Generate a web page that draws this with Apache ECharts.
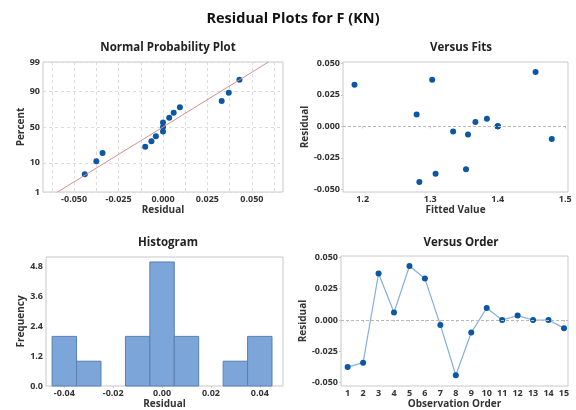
<!DOCTYPE html>
<html>
<head>
<meta charset="utf-8">
<script src="https://cdn.jsdelivr.net/npm/echarts@6/dist/echarts.min.js"></script>
<style>
  html, body { margin: 0; padding: 0; background: #fff; }
  #chart { width: 576px; height: 410px; }
</style>
</head>
<body>
<div id="chart"></div>
<script>
const observation = [1, 2, 3, 4, 5, 6, 7, 8, 9, 10, 11, 12, 13, 14, 15]
const residuals = [-0.0375, -0.034, 0.037, 0.006, 0.043, 0.033, -0.004, -0.044, -0.010, 0.0095, 0.000, 0.0035, 0.000, 0.000, -0.0065]
const fitted = [1.308, 1.353, 1.303, 1.384, 1.456, 1.188, 1.334, 1.284, 1.480, 1.280, 1.400, 1.367, 1.400, 1.400, 1.356]

// normal probability plot: sorted residuals and their plotted percents
const npResidual = [-0.044, -0.0375, -0.034, -0.010, -0.0065, -0.004, 0.000, 0.000, 0.000, 0.0035, 0.006, 0.0095, 0.033, 0.037, 0.043]
const npPercent = [4.5, 11.0, 17.5, 24.0, 30.5, 37.0, 43.5, 50.0, 56.5, 63.0, 69.5, 76.0, 82.5, 89.0, 95.5]
const npLineResidual = [-0.0593, 0.0593]
const npLinePercent = [1, 99]
const percentTicks = [1, 10, 50, 90, 99]

// histogram bins
const binStart = [-0.045, -0.035, -0.025, -0.015, -0.005, 0.005, 0.015, 0.025, 0.035]
const binEnd = [-0.035, -0.025, -0.015, -0.005, 0.005, 0.015, 0.025, 0.035, 0.045]
const binCount = [2, 1, 0, 2, 5, 2, 0, 1, 2]

const residTicks = [-0.05, -0.025, 0, 0.025, 0.05]
const npGridX = [-0.0625, -0.05, -0.0375, -0.025, -0.0125, 0, 0.0125, 0.025, 0.0375, 0.05, 0.0625]
const fitTicks = [1.2, 1.3, 1.4, 1.5]
const histTicks = [-0.04, -0.02, 0, 0.02, 0.04]
const freqTicks = [0, 1.2, 2.4, 3.6, 4.8]

// inverse normal cdf (probability axis scale)
function probit(p) {
  const a = [-39.69683028665376, 220.9460984245205, -275.9285104469687, 138.357751867269, -30.66479806614716, 2.506628277459239]
  const b = [-54.47609879822406, 161.5858368580409, -155.6989798598866, 66.80131188771972, -13.28068155288572]
  const c = [-0.007784894002430293, -0.3223964580411365, -2.400758277161838, -2.549732539343734, 4.374664141464968, 2.938163982698783]
  const d = [0.007784695709041462, 0.3224671290700398, 2.445134137142996, 3.754408661907416]
  const pl = 0.02425
  let q, r
  if (p < pl) {
    q = Math.sqrt(-2 * Math.log(p))
    return (((((c[0] * q + c[1]) * q + c[2]) * q + c[3]) * q + c[4]) * q + c[5]) / ((((d[0] * q + d[1]) * q + d[2]) * q + d[3]) * q + 1)
  }
  if (p > 1 - pl) {
    q = Math.sqrt(-2 * Math.log(1 - p))
    return -(((((c[0] * q + c[1]) * q + c[2]) * q + c[3]) * q + c[4]) * q + c[5]) / ((((d[0] * q + d[1]) * q + d[2]) * q + d[3]) * q + 1)
  }
  q = p - 0.5
  r = q * q
  return (((((a[0] * r + a[1]) * r + a[2]) * r + a[3]) * r + a[4]) * r + a[5]) * q / (((((b[0] * r + b[1]) * r + b[2]) * r + b[3]) * r + b[4]) * r + 1)
}
const z = (pct) => probit(pct / 100)
const zTicks = percentTicks.map(z)

const FONT = 'Open Sans'
const dark = '#333'
const frame = '#c8c8c8'
const blue = '#0b57a4'

function labelStyle(extra) {
  return Object.assign({ fontFamily: FONT, fontSize: 9, fontWeight: 'bold', color: dark, margin: 3 }, extra)
}
const nameStyle = { fontFamily: FONT, fontSize: 10, fontWeight: 'bold', color: dark }
const dashedSplit = { show: true, lineStyle: { color: '#dcdcdc', type: [3, 3], width: 1 } }
const zeroLine = {
  silent: true,
  symbol: 'none',
  label: { show: false },
  lineStyle: { color: '#b8b8b8', type: [3, 2], width: 1 },
  data: [{ yAxis: 0 }]
}

function panelTitle(text, x, y) {
  return { text, left: x, top: y, textAlign: 'center', textStyle: { fontFamily: FONT, fontSize: 11.5, fontWeight: 'bold', color: '#222' } }
}

const chart = echarts.init(document.getElementById('chart'))

const option = {
  animation: false,
  backgroundColor: '#fff',
  title: [
    { text: 'Residual Plots for F (KN)', left: 288, top: 6, textAlign: 'center', textStyle: { fontFamily: FONT, fontSize: 14.5, fontWeight: 'bold', color: '#111' } },
    panelTitle('Normal Probability Plot', 163, 37),
    panelTitle('Versus Fits', 456, 37),
    panelTitle('Histogram', 163, 232),
    panelTitle('Versus Order', 456, 232)
  ],
  grid: [
    { left: 43, top: 62, width: 240, height: 130, show: true, borderColor: frame, borderWidth: 1 },
    { left: 343, top: 62, width: 225, height: 130, show: true, borderColor: frame, borderWidth: 1 },
    { left: 46, top: 257, width: 237, height: 131, show: true, borderColor: frame, borderWidth: 1 },
    { left: 341, top: 256, width: 227, height: 131, show: true, borderColor: frame, borderWidth: 1 }
  ],
  xAxis: [
    {
      gridIndex: 0, type: 'value', min: -0.0675, max: 0.0675,
      name: 'Residual', nameLocation: 'middle', nameGap: 13, nameTextStyle: nameStyle,
      axisLine: { show: false },
      axisTick: { show: false, customValues: npGridX },
      axisLabel: labelStyle({ customValues: residTicks, formatter: (v) => v.toFixed(3) }),
      splitLine: dashedSplit
    },
    {
      gridIndex: 1, type: 'value', min: 1.171, max: 1.504,
      name: 'Fitted Value', nameLocation: 'middle', nameGap: 13, nameTextStyle: nameStyle,
      axisLine: { show: false },
      axisTick: { show: true, length: 2, lineStyle: { color: frame }, customValues: fitTicks },
      axisLabel: labelStyle({ customValues: fitTicks, formatter: (v) => v.toFixed(1) }),
      splitLine: { show: false }
    },
    {
      gridIndex: 2, type: 'value', min: -0.0475, max: 0.0495,
      name: 'Residual', nameLocation: 'middle', nameGap: 13, nameTextStyle: nameStyle,
      axisLine: { show: false },
      axisTick: { show: true, length: 2, lineStyle: { color: frame }, customValues: histTicks },
      axisLabel: labelStyle({ customValues: histTicks, formatter: (v) => v.toFixed(2) }),
      splitLine: { show: false }
    },
    {
      gridIndex: 3, type: 'value', min: 0.57, max: 15.26,
      name: 'Observation Order', nameLocation: 'middle', nameGap: 13, nameTextStyle: nameStyle,
      axisLine: { show: false },
      axisTick: { show: true, length: 2, lineStyle: { color: frame }, customValues: observation },
      axisLabel: labelStyle({ customValues: observation }),
      splitLine: { show: false }
    }
  ],
  yAxis: [
    {
      gridIndex: 0, type: 'value', min: zTicks[0], max: zTicks[zTicks.length - 1],
      name: 'Percent', nameLocation: 'middle', nameGap: 16, nameTextStyle: nameStyle,
      axisLine: { show: false },
      axisTick: { show: false, customValues: zTicks },
      axisLabel: labelStyle({
        customValues: zTicks,
        formatter: (v) => {
          let best = 0
          zTicks.forEach((t, i) => { if (Math.abs(t - v) < Math.abs(zTicks[best] - v)) best = i })
          return String(percentTicks[best])
        }
      }),
      splitLine: dashedSplit
    },
    {
      gridIndex: 1, type: 'value', min: -0.052, max: 0.051,
      name: 'Residual', nameLocation: 'middle', nameGap: 27, nameTextStyle: nameStyle,
      axisLine: { show: false },
      axisTick: { show: true, length: 2, lineStyle: { color: frame }, customValues: residTicks },
      axisLabel: labelStyle({ customValues: residTicks, formatter: (v) => v.toFixed(3) }),
      splitLine: { show: false }
    },
    {
      gridIndex: 2, type: 'value', min: 0, max: 5.2,
      name: 'Frequency', nameLocation: 'middle', nameGap: 19, nameTextStyle: nameStyle,
      axisLine: { show: false },
      axisTick: { show: true, length: 2, lineStyle: { color: frame }, customValues: freqTicks },
      axisLabel: labelStyle({ customValues: freqTicks, formatter: (v) => v.toFixed(1) }),
      splitLine: { show: false }
    },
    {
      gridIndex: 3, type: 'value', min: -0.0526, max: 0.051,
      name: 'Residual', nameLocation: 'middle', nameGap: 27, nameTextStyle: nameStyle,
      axisLine: { show: false },
      axisTick: { show: true, length: 2, lineStyle: { color: frame }, customValues: residTicks },
      axisLabel: labelStyle({ customValues: residTicks, formatter: (v) => v.toFixed(3) }),
      splitLine: { show: false }
    }
  ],
  series: [
    {
      name: 'fit line', type: 'line', xAxisIndex: 0, yAxisIndex: 0,
      data: npLineResidual.map((r, i) => [r, z(npLinePercent[i])]),
      symbol: 'none', lineStyle: { color: '#d48f8f', width: 1 }, clip: true
    },
    {
      name: 'normal', type: 'scatter', xAxisIndex: 0, yAxisIndex: 0,
      data: npResidual.map((r, i) => [r, z(npPercent[i])]),
      symbolSize: 6, itemStyle: { color: blue, opacity: 1 }
    },
    {
      name: 'fits', type: 'scatter', xAxisIndex: 1, yAxisIndex: 1,
      data: fitted.map((f, i) => [f, residuals[i]]),
      symbolSize: 6, itemStyle: { color: blue, opacity: 1 },
      markLine: zeroLine
    },
    {
      name: 'histogram', type: 'custom', xAxisIndex: 2, yAxisIndex: 2,
      data: binCount.map((c, i) => [binStart[i], binEnd[i], c]),
      renderItem: (params, api) => {
        if (!api.value(2)) return null
        const p0 = api.coord([api.value(0), api.value(2)])
        const p1 = api.coord([api.value(1), 0])
        return {
          type: 'rect',
          shape: { x: p0[0], y: p0[1], width: p1[0] - p0[0], height: p1[1] - p0[1] },
          style: { fill: '#7ca5da', stroke: '#5b7fae', lineWidth: 1 }
        }
      }
    },
    {
      name: 'order', type: 'line', xAxisIndex: 3, yAxisIndex: 3,
      data: observation.map((o, i) => [o, residuals[i]]),
      symbol: 'circle', symbolSize: 6,
      lineStyle: { color: '#86afdf', width: 1.2 },
      itemStyle: { color: blue },
      markLine: zeroLine
    }
  ]
}

chart.setOption(option)
</script>
</body>
</html>
